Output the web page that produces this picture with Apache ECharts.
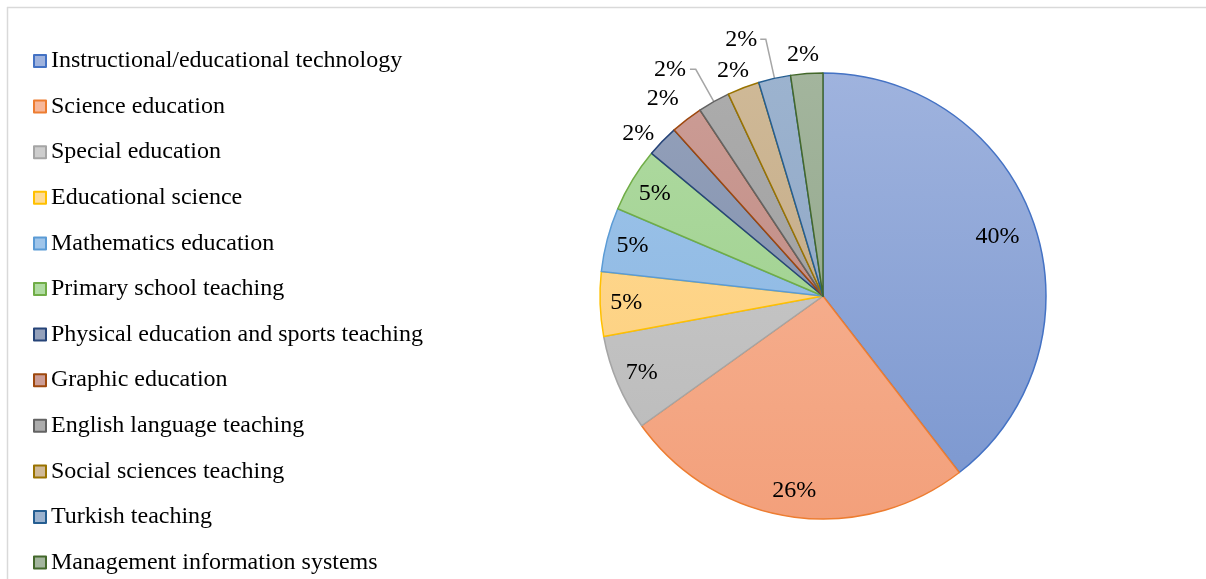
<!DOCTYPE html>
<html><head><meta charset="utf-8">
<script src="https://cdn.jsdelivr.net/npm/echarts@6/dist/echarts.min.js"></script>
<style>html,body{margin:0;padding:0;background:#fff}#c{width:1206px;height:579px}</style>
</head><body><div id="c"></div>
<script>
const categories = ["Instructional/educational technology","Science education","Special education","Educational science","Mathematics education","Primary school teaching","Physical education and sports teaching","Graphic education","English language teaching","Social sciences teaching","Turkish teaching","Management information systems"];
const counts = [17,11,3,2,2,2,1,1,1,1,1,1];
const fillTop = ["#9fb3de","#f7b89b","#cdcdcd","#fedb97","#9fc5ea","#b0dba2","#94a1bb","#cc9d96","#acacac","#cfb997","#9cb3cf","#a3b59d"];
const fillBottom = ["#7a96cf","#f3a07b","#b9b9b9","#fdcd78","#86b3e0","#98cc87","#7b8aa7","#bb837b","#999999","#bfa47f","#8aa1c0","#8ca285"];
const borders = ["#4472C4","#ED7D31","#A5A5A5","#FFC000","#5B9BD5","#70AD47","#264478","#9E480E","#636363","#997300","#255E91","#43682B"];
// outside label placement for the small slices (leader length, second segment, gap, line shown)
const outLen  = [11.5, 26, 37, 18, 40, 18.7];
const outLen2 = [0, -8, 5.8, -12, 5.6, -13.6];
const outGap  = [0, 0, 4, 0, 3, 0];
const outLine = [false, false, true, false, true, false];

const CX = 823, CY = 296, R = 223;
const chart = echarts.init(document.getElementById('c'), null, {renderer:'canvas'});
const total = counts.reduce((a,b)=>a+b,0);
const pct = v => Math.round(v/total*100) + '%';
const font = '"Liberation Serif","Times New Roman",serif';

const mainData = categories.map((n,i)=>{
  const small = i >= 6;
  const k = i - 6;
  return {
    name: n, value: counts[i],
    itemStyle: {
      color: {type:'linear', x:0, y:CY-R, x2:0, y2:CY+R, global:true,
        colorStops:[{offset:0,color:fillTop[i]},{offset:1,color:fillBottom[i]}]},
      borderColor: borders[i], borderWidth: 1.5
    },
    label: small ? {show:true, distanceToLabelLine: outGap[k]} : {show:false},
    labelLine: small ? {show: outLine[k], length: outLen[k], length2: outLen2[k]} : {show:false}
  };
});
const overlayData = categories.map((n,i)=>({name:n, value:counts[i], label:{show: i<6}}));

chart.setOption({
  animation:false,
  graphic:[
    {type:'line', shape:{x1:7.5,y1:7,x2:7.5,y2:579}, style:{stroke:'#d9d9d9', lineWidth:1.5}},
    {type:'line', shape:{x1:7,y1:7.5,x2:1206,y2:7.5}, style:{stroke:'#d9d9d9', lineWidth:1.5}}
  ],
  legend:{
    orient:'vertical', left:33, top:49, height:540, padding:0,
    data: categories,
    itemWidth:12, itemHeight:12, itemGap:21.6,
    icon:'rect',
    selectedMode:false,
    textStyle:{fontFamily:font, fontSize:24, color:'#000', lineHeight:24}
  },
  series:[
    {
      type:'pie', name:'main', center:[CX,CY], radius:[0,R], startAngle:90, clockwise:true,
      avoidLabelOverlap:false,
      data: mainData,
      label:{position:'outside', formatter: p=>pct(p.value), fontFamily:font, fontSize:24, color:'#000'},
      labelLine:{lineStyle:{color:'#a6a6a6', width:1.5}, smooth:false},
      emphasis:{disabled:true}
    },
    {
      type:'pie', name:'labels', center:[CX,CY], radius:[165,R], startAngle:90, clockwise:true,
      silent:true, data: overlayData,
      itemStyle:{color:'rgba(0,0,0,0)', borderWidth:0},
      label:{position:'inside', formatter: p=>pct(p.value), fontFamily:font, fontSize:24, color:'#000'},
      labelLine:{show:false},
      labelLayout: p => p.dataIndex === 0 ? {dx:-12, dy:4} : {},
      emphasis:{disabled:true}
    }
  ]
});
</script></body></html>
